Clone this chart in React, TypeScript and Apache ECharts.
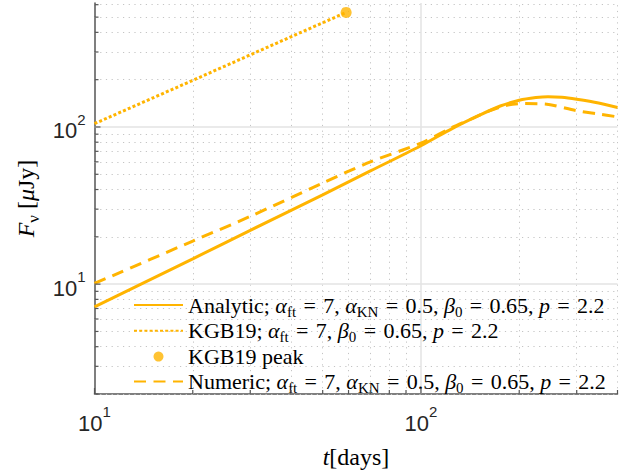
import React, { useEffect, useRef } from 'react';
import * as echarts from 'echarts';

// ---- data ----
const tAnalytic = [10, 20, 30, 50, 70, 100, 125, 150, 175, 200, 225, 245, 270, 300, 350, 400];
const fAnalytic = [7.16, 14.5, 22, 37, 52.5, 76, 98, 118, 136, 148, 154, 156, 154.5, 150, 142, 133];

const tKGB = [10, 20, 40, 59];
const fKGB = [105, 198, 375, 536];

const tPeak = [59];
const fPeak = [536];

const tNumeric = [10, 20, 30, 50, 70, 100, 123, 142, 158, 182, 207, 240, 300, 350, 400];
const fNumeric = [10.1, 18.8, 27, 44, 60, 79, 98, 112, 124, 137, 141, 140, 127, 121, 116];

const xMajorTicks = [10, 100];
const xMinorTicks = [20, 30, 40, 50, 60, 70, 80, 90, 200, 300, 400];
const yMajorTicks = [10, 100];
const yMinorTicks = [2, 3, 4, 5, 6, 7, 8, 9, 20, 30, 40, 50, 60, 70, 80, 90, 200, 300, 400, 500, 600];

const X_MIN = 10, X_MAX = 400, Y_MIN = 2, Y_MAX = 615;

const COLOR = '#FFB400';
const SERIF = 'Liberation Serif';
const SANS = 'Liberation Sans';

const EQ = ' \u200A=\u200A ';
const legendLabels: Record<string, string> = {
  Analytic: `{r|Analytic; }{i|α}{sub|ft}{r|${EQ}7, }{i|α}{sub|KN}{r|${EQ}0.5, }{i|β}{sub|0}{r|${EQ}0.65, }{i|p}{r|${EQ}2.2}`,
  KGB19: `{r|KGB19; }{i|α}{sub|ft}{r|${EQ}7, }{i|β}{sub|0}{r|${EQ}0.65, }{i|p}{r|${EQ}2.2}`,
  'KGB19 peak': '{r|KGB19 peak}',
  Numeric: `{r|Numeric; }{i|α}{sub|ft}{r|${EQ}7, }{i|α}{sub|KN}{r|${EQ}0.5, }{i|β}{sub|0}{r|${EQ}0.65, }{i|p}{r|${EQ}2.2}`,
};

const zip = (a: number[], b: number[]) => a.map((v, i) => [v, b[i]]);
const isPow10 = (v: number) => Math.abs(Math.log10(v) - Math.round(Math.log10(v))) < 1e-6;

export default function App() {
  const ref = useRef<HTMLDivElement>(null);
  useEffect(() => {
    const chart = echarts.init(ref.current!, null, { renderer: 'svg' });

    const tickData: number[][] = [];
    xMajorTicks.forEach((v) => tickData.push([v, Y_MIN, 0, 6]));
    xMinorTicks.forEach((v) => tickData.push([v, Y_MIN, 0, 4]));
    yMajorTicks.forEach((v) => tickData.push([X_MIN, v, 1, 6]));
    yMinorTicks.forEach((v) => tickData.push([X_MIN, v, 1, 4]));

    const minorStyle = { color: '#c4c4c4', width: 1, type: [1.2, 4.5] as any };
    const majorStyle = { color: '#e3e3e3', width: 1.5, type: 'solid' as any };
    const gridLines: any[] = [];
    xMinorTicks.forEach((v) => gridLines.push({ xAxis: v, lineStyle: minorStyle }));
    yMinorTicks.forEach((v) => gridLines.push({ yAxis: v, lineStyle: minorStyle }));
    xMajorTicks.filter((v) => v > X_MIN).forEach((v) => gridLines.push({ xAxis: v, lineStyle: majorStyle }));
    yMajorTicks.forEach((v) => gridLines.push({ yAxis: v, lineStyle: majorStyle }));

    const axisLabelRich = {
      b: { fontSize: 22, fontFamily: SANS, color: '#262626', lineHeight: 30, verticalAlign: 'bottom' },
      s: { fontSize: 15, fontFamily: SANS, color: '#262626', lineHeight: 15, verticalAlign: 'top' },
    };
    const fmt = (v: number) => (isPow10(v) ? `{b|10}{s|${Math.round(Math.log10(v))}}` : '');

    const mathRich = (size: number, lh: number) => ({
      r: { fontSize: size, fontFamily: SERIF, color: '#000', lineHeight: lh },
      i: { fontStyle: 'italic', fontSize: size, fontFamily: SERIF, color: '#000', lineHeight: lh },
      sub: {
        fontSize: Math.round(size * 0.7),
        fontFamily: SERIF,
        color: '#000',
        lineHeight: Math.round(size * 0.7),
        verticalAlign: 'top',
        padding: [Math.round(lh * 0.46), 0, 0, 0],
      },
    });

    const hideSym = { opacity: 0 };

    chart.setOption({
      animation: false,
      backgroundColor: '#fff',
      grid: { left: 94.5, right: 12.5, top: 3, bottom: 79, containLabel: false },
      xAxis: {
        type: 'log',
        logBase: 10,
        min: X_MIN,
        max: X_MAX,
        axisLine: { show: true, lineStyle: { color: '#555', width: 1.5 } },
        axisTick: { show: false },
        minorTick: { show: false },
        splitLine: { show: false },
        axisLabel: { formatter: fmt, rich: axisLabelRich, margin: 10, showMinLabel: true, showMaxLabel: true },
        name: '{i|t}{r|[days]}',
        nameLocation: 'middle',
        nameGap: 50,
        nameTextStyle: { fontFamily: SERIF, fontSize: 24, color: '#000', lineHeight: 26, rich: mathRich(24, 26) },
      },
      yAxis: {
        type: 'log',
        logBase: 10,
        min: Y_MIN,
        max: Y_MAX,
        axisLine: { show: true, lineStyle: { color: '#555', width: 1.5 } },
        axisTick: { show: false },
        minorTick: { show: false },
        splitLine: { show: false },
        axisLabel: { formatter: fmt, rich: axisLabelRich, margin: 9 },
        name: '{i|F}{sub|ν}{r| [}{i|μ}{r|Jy]}',
        nameLocation: 'middle',
        nameGap: 52,
        nameTextStyle: { fontFamily: SERIF, fontSize: 24, color: '#000', lineHeight: 26, rich: mathRich(24, 26) },
      },
      legend: {
        orient: 'vertical',
        left: 133,
        top: 292,
        padding: 0,
        itemWidth: 49,
        itemHeight: 10,
        itemGap: -1.2,
        selectedMode: false,
        data: [
          { name: 'Analytic', itemStyle: hideSym },
          { name: 'KGB19', itemStyle: hideSym },
          { name: 'KGB19 peak' },
          { name: 'Numeric', itemStyle: hideSym },
        ],
        formatter: (name: string) => legendLabels[name] ?? name,
        textStyle: {
          fontFamily: SERIF,
          fontSize: 22,
          color: '#000',
          lineHeight: 26,
          rich: mathRich(22, 26),
        },
      },
      series: [
        {
          name: '__grid',
          type: 'line',
          data: [],
          z: 0,
          silent: true,
          markLine: {
            z: 1,
            silent: true,
            animation: false,
            symbol: ['none', 'none'],
            label: { show: false },
            emphasis: { disabled: true },
            data: gridLines,
          },
        },
        {
          name: 'Analytic',
          type: 'line',
          z: 3,
          data: zip(tAnalytic, fAnalytic),
          symbol: 'none',
          smooth: 0.3,
          itemStyle: { color: COLOR },
          lineStyle: { color: COLOR, width: 3 },
        },
        {
          name: 'KGB19',
          type: 'line',
          z: 3,
          data: zip(tKGB, fKGB),
          symbol: 'none',
          itemStyle: { color: COLOR },
          lineStyle: { color: COLOR, width: 3, type: [3, 2.2], cap: 'butt' },
        },
        {
          name: 'KGB19 peak',
          type: 'scatter',
          z: 4,
          data: zip(tPeak, fPeak),
          symbol: 'circle',
          symbolSize: 11,
          itemStyle: { color: COLOR },
        },
        {
          name: 'Numeric',
          type: 'line',
          z: 3,
          data: zip(tNumeric, fNumeric),
          symbol: 'none',
          smooth: 0.3,
          itemStyle: { color: COLOR },
          lineStyle: { color: COLOR, width: 3, type: [12, 7.5], cap: 'butt' },
        },
        {
          name: '__ticks',
          type: 'custom',
          z: 5,
          silent: true,
          clip: false,
          encode: { x: 0, y: 1 },
          data: tickData,
          renderItem: (params: any, api: any) => {
            const p = api.coord([api.value(0), api.value(1)]);
            const dir = api.value(2);
            const len = api.value(3);
            const shape =
              dir === 0
                ? { x1: p[0], y1: p[1], x2: p[0], y2: p[1] - len }
                : { x1: p[0], y1: p[1], x2: p[0] + len, y2: p[1] };
            return { type: 'line', shape, style: { stroke: '#555', lineWidth: 1.2 } };
          },
        },
      ],
    });
    return () => chart.dispose();
  }, []);
  return <div ref={ref} style={{ position: 'fixed', left: 0, top: 0, width: 630, height: 475 }} />;
}
